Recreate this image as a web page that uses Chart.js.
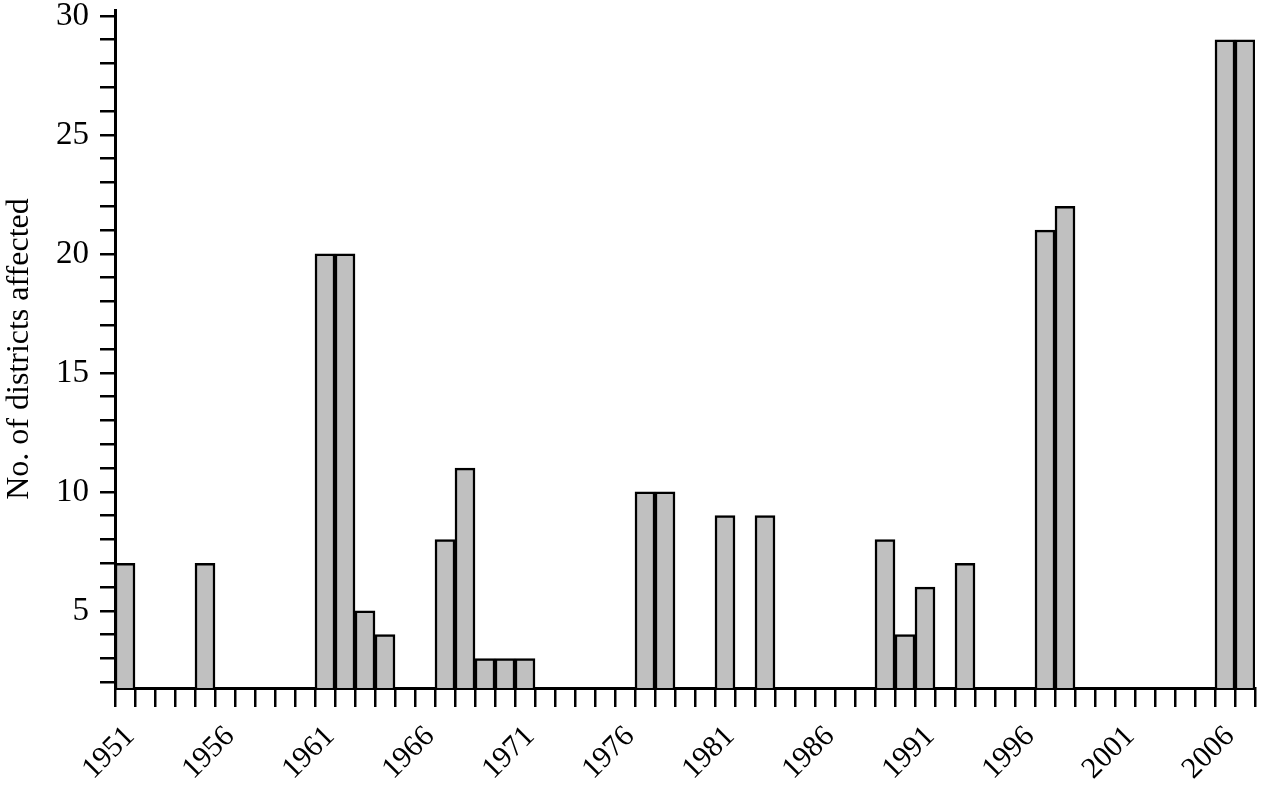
<!DOCTYPE html>
<html>
<head>
<meta charset="utf-8">
<script src="https://cdn.jsdelivr.net/npm/chart.js@4/dist/chart.umd.min.js"></script>
<style>
html,body{margin:0;padding:0;background:#fff;}
#wrap{width:1261px;height:791px;position:relative;}
</style>
</head>
<body>
<div id="wrap"><canvas id="c" width="1261" height="791"></canvas></div>
<script>
const years = [1951,1952,1953,1954,1955,1956,1957,1958,1959,1960,
  1961,1962,1963,1964,1965,1966,1967,1968,1969,1970,
  1971,1972,1973,1974,1975,1976,1977,1978,1979,1980,
  1981,1982,1983,1984,1985,1986,1987,1988,1989,1990,
  1991,1992,1993,1994,1995,1996,1997,1998,1999,2000,
  2001,2002,2003,2004,2005,2006,2007];
const districts = [7,null,null,null,7,null,null,null,null,null,
  20,20,5,4,null,null,8,11,3,3,
  3,null,null,null,null,null,10,10,null,null,
  9,null,9,null,null,null,null,null,8,4,
  6,null,7,null,null,null,21,22,null,null,
  null,null,null,null,null,29,29];
const xTickYears = [];
for (let y = 1951; y <= 2008; y++) xTickYears.push(y);
const xLabelYears = [1951,1956,1961,1966,1971,1976,1981,1986,1991,1996,2001,2006];
const yTicks = [2,3,4,5,6,7,8,9,10,11,12,13,14,15,16,17,18,19,20,21,22,23,24,25,26,27,28,29,30];
const yLabelValues = [5,10,15,20,25,30];
const yTitle = 'No. of districts affected';

const FONT = "'Liberation Serif', 'Times New Roman', serif";

const points = years.map((y,i)=>({x: y + 0.5, y: districts[i]}));

new Chart(document.getElementById('c'), {
  type: 'bar',
  data: {
    datasets: [{
      data: points,
      backgroundColor: '#c0c0c0',
      borderColor: '#000',
      borderWidth: 2.5,
      barPercentage: 1,
      categoryPercentage: 1
    }]
  },
  options: {
    responsive: false,
    animation: false,
    layout: {padding: {top: 10, right: 6, left: 0, bottom: 0}},
    plugins: {legend: {display: false}, tooltip: {enabled: false}},
    scales: {
      x: {
        type: 'linear',
        offset: false,
        min: 1951,
        max: 2008,
        afterBuildTicks: s => { s.ticks = xTickYears.map(v => ({value: v})); },
        afterFit: s => { s.height = 103; s.paddingLeft = 0; s.paddingRight = 0; },
        border: {display: true, color: '#000', width: 3},
        grid: {offset: false, drawOnChartArea: false, color: '#000', tickColor: '#000', tickLength: 19, lineWidth: 2.5, tickWidth: 2.5},
        ticks: {
          autoSkip: false,
          maxRotation: 45,
          minRotation: 45,
          color: '#000',
          padding: 12,
          labelOffset: 15,
          font: {family: FONT, size: 30},
          callback: v => xLabelYears.includes(v) ? String(v) : ''
        }
      },
      y: {
        min: 1.76,
        max: 30.25,
        afterBuildTicks: s => { s.ticks = yTicks.map(v => ({value: v})); },
        afterFit: s => { s.width = 115; s.paddingTop = 0; s.paddingBottom = 0; },
        border: {display: true, color: '#000', width: 3},
        grid: {drawOnChartArea: false, color: '#000', tickColor: '#000', tickLength: 15, lineWidth: 2.5, tickWidth: 2.5},
        ticks: {
          autoSkip: false,
          color: '#000',
          padding: 11,
          font: {family: FONT, size: 33},
          callback: v => yLabelValues.includes(v) ? String(v) : ''
        },
        title: {
          display: true,
          text: yTitle,
          color: '#000',
          padding: {top: 0, bottom: 4},
          font: {family: FONT, size: 32}
        }
      }
    }
  }
});
</script>
</body>
</html>
